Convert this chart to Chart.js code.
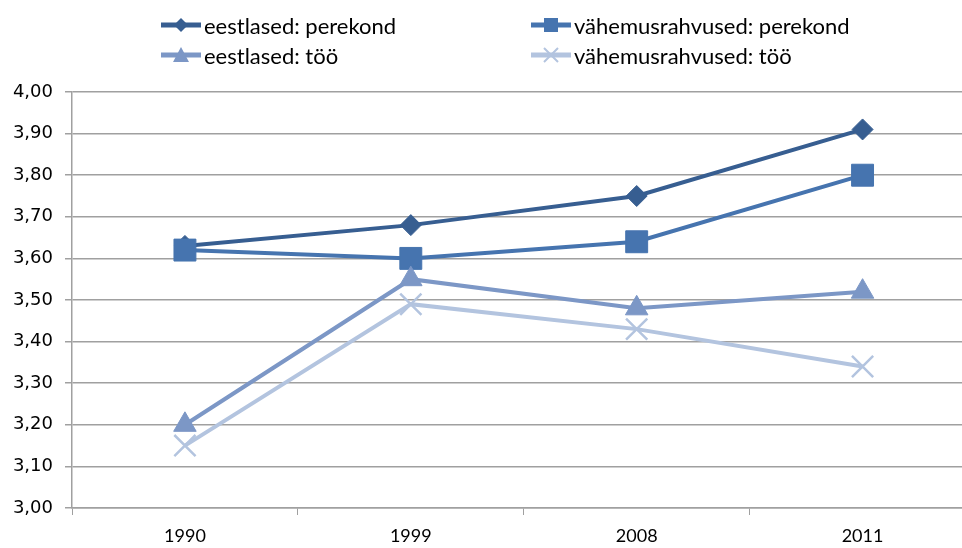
<!DOCTYPE html>
<html>
<head>
<meta charset="utf-8">
<script src="https://cdn.jsdelivr.net/npm/chart.js@4"></script>
<style>
    html, body { margin: 0; padding: 0; background: #fff; overflow: hidden; }
    #wrap { position: relative; width: 962px; height: 548px; overflow: hidden; }
    #myChart { position: absolute; left: 0; top: 0; }
    .leg-item { position: absolute; height: 26px; display: flex; align-items: center;
        font-family: Lato, "Open Sans", sans-serif; font-size: 22px; color: #000; white-space: nowrap; }
    .leg-item svg { margin-right: 3px; }
</style>
</head>
<body>
<div id="wrap">
    <canvas id="myChart" width="993" height="548"></canvas>
    <div id="legend"></div>
</div>
<script>
let labels = ["1990", "1999", "2008", "2011"];
let seriesNames = [
    "eestlased: perekond",
    "vähemusrahvused: perekond",
    "eestlased: töö",
    "vähemusrahvused: töö",
];
let eestlasedPerekond = [3.63, 3.68, 3.75, 3.91];
let vahemusPerekond = [3.62, 3.6, 3.64, 3.8];
let eestlasedToo = [3.2, 3.55, 3.48, 3.52];
let vahemusToo = [3.15, 3.49, 3.43, 3.34];
let yTicks = [3.0, 3.1, 3.2, 3.3, 3.4, 3.5, 3.6, 3.7, 3.8, 3.9, 4.0];

let colors = ["#375e91", "#4674af", "#7c97c6", "#b3c4df"];
let gridColor = "#a0a0a0";

function lineSet(i, data, style, radius, order) {
    return {
        label: seriesNames[i],
        data: data,
        borderColor: colors[i],
        backgroundColor: colors[i],
        borderWidth: 4,
        pointStyle: style,
        pointRadius: radius,
        pointHoverRadius: radius,
        pointBorderWidth: style === "crossRot" ? 2.5 : 1,
        pointBorderColor: colors[i],
        pointBackgroundColor: colors[i],
        tension: 0,
        order: order,
    };
}

let ctx = document.getElementById("myChart").getContext("2d");

let myChart = new Chart(ctx, {
    type: "line",
    data: {
        labels: labels,
        datasets: [
            lineSet(0, eestlasedPerekond, "rectRot", 10.5, 4),
            lineSet(1, vahemusPerekond, "rect", 15.5, 3),
            lineSet(2, eestlasedToo, "triangle", 13, 2),
            lineSet(3, vahemusToo, "crossRot", 15, 1),
        ],
    },
    options: {
        responsive: false,
        animation: false,
        events: [],
        layout: {
            padding: { top: 92, right: 7, left: 0, bottom: 0 },
        },
        plugins: {
            legend: { display: false },
            tooltip: { enabled: false },
        },
        scales: {
            x: {
                type: "category",
                offset: true,
                grid: {
                    offset: true,
                    drawOnChartArea: false,
                    drawTicks: true,
                    tickLength: 7,
                    color: gridColor,
                },
                border: { color: gridColor, width: 1.5 },
                ticks: {
                    color: "#000",
                    padding: 10,
                    font: { family: "Lato, sans-serif", size: 18 },
                },
                afterFit: (scale) => {
                    scale.height = 40;
                },
            },
            y: {
                min: 3,
                max: 4,
                afterBuildTicks: (scale) => {
                    scale.ticks = yTicks.map((v) => ({ value: v }));
                },
                grid: {
                    color: gridColor,
                    lineWidth: 1.5,
                    tickLength: 7,
                },
                border: { color: gridColor, width: 1.5 },
                ticks: {
                    color: "#000",
                    padding: 12,
                    font: { family: "'DejaVu Sans', sans-serif", size: 18 },
                    callback: (value) => value.toFixed(2).replace(".", ","),
                },
                afterFit: (scale) => {
                    scale.width = 72;
                },
            },
        },
    },
});

// legend in two rows like the original
function legendIcon(i, style) {
    let c = colors[i];
    let mark = "";
    if (style === "rectRot") {
        mark = `<polygon points="20,4 27,11 20,18 13,11" fill="${c}"/>`;
    } else if (style === "rect") {
        mark = `<rect x="13" y="4" width="14" height="14" fill="${c}"/>`;
    } else if (style === "triangle") {
        mark = `<polygon points="20,3 28,18 12,18" fill="${c}"/>`;
    } else {
        mark = `<path d="M13 4 L27 18 M27 4 L13 18" stroke="${c}" stroke-width="2"/>`;
    }
    return `<svg width="40" height="22"><line x1="0" y1="11" x2="40" y2="11" stroke="${c}" stroke-width="5"/>${mark}</svg>`;
}

let legendPos = [
    [161, 12],
    [531, 12],
    [161, 42],
    [531, 42],
];
let legendStyles = ["rectRot", "rect", "triangle", "crossRot"];
let legendHtml = "";
seriesNames.forEach((name, i) => {
    legendHtml += `<div class="leg-item" style="left:${legendPos[i][0]}px;top:${legendPos[i][1]}px">${legendIcon(i, legendStyles[i])}<span>${name}</span></div>`;
});
document.getElementById("legend").innerHTML = legendHtml;
</script>
</body>
</html>
